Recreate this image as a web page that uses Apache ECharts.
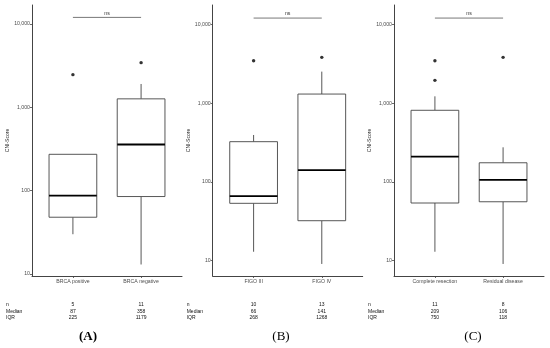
<!DOCTYPE html>
<html><head><meta charset="utf-8">
<script src="https://cdn.jsdelivr.net/npm/echarts@6/dist/echarts.min.js"></script>
<style>html,body{margin:0;padding:0;background:#fff}#c{width:550px;height:348px}</style>
</head><body><div id="c"></div><script>
// ---------- data ----------
const panelLabels = ['(A)', '(B)', '(C)'];
const categoriesA = ['BRCA positive', 'BRCA negative'];
const categoriesB = ['FIGO III', 'FIGO IV'];
const categoriesC = ['Complete resection', 'Residual disease'];
// [lower whisker, Q1, median, Q3, upper whisker]
const boxA = [[30, 48, 87, 273, 273], [13, 85, 358, 1264, 1905]];
const boxB = [[13, 53.5, 66, 324, 394], [9.1, 32.2, 141, 1303, 2510]];
const boxC = [[13, 54, 209, 811, 1219], [9.1, 56, 106, 175, 275]];
const outliersA = [[1, 2465], [2, 3435]];
const outliersB = [[1, 3451], [2, 3810]];
const outliersC = [[1, 3451], [1, 1946], [2, 3810]];
const nA = [5, 11], medianA = [87, 358], iqrA = [225, 1179];
const nB = [10, 13], medianB = [66, 141], iqrB = [268, 1268];
const nC = [11, 8], medianC = [209, 106], iqrC = [750, 118];
const rowLabels = ['n', 'Median', 'IQR'];
const yTickValues = [10, 100, 1000, 10000];
const sigLabel = 'ns';
const sigLevel = 12000;
const yAxisTitle = 'CNI-Score';

// ---------- layout ----------
const FONT = '"Liberation Sans", Arial, sans-serif';
const panels = [
  {cats: categoriesA, box: boxA, out: outliersA, n: nA, med: medianA, iqr: iqrA, left: 32, ymin: 9.46, ymax: 16900, labelX: 88, bold: true},
  {cats: categoriesB, box: boxB, out: outliersB, n: nB, med: medianB, iqr: iqrB, left: 212.7, ymin: 6.4, ymax: 17580, labelX: 281, bold: false},
  {cats: categoriesC, box: boxC, out: outliersC, n: nC, med: medianC, iqr: iqrC, left: 394, ymin: 6.4, ymax: 17580, labelX: 473, bold: false}
];
const GW = 150, GTOP = 5, GBOT = 276;

const grids = [], xAxes = [], yAxes = [], series = [], graphics = [];
const axisLine = {show: true, lineStyle: {color: '#444', width: 1}};
const axisTextColor = '#4d4d4d';

function boxRender(params, api) {
  const x = api.value(0);
  const lw = api.value(1), q1 = api.value(2), med = api.value(3), q3 = api.value(4), uw = api.value(5);
  const hw = 0.35;
  const pTL = api.coord([x - hw, q3]);
  const pBR = api.coord([x + hw, q1]);
  const pML = api.coord([x - hw, med]), pMR = api.coord([x + hw, med]);
  const pUW = api.coord([x, uw]), pLW = api.coord([x, lw]);
  const st = {stroke: '#444', lineWidth: 0.9, fill: null};
  const ch = [];
  if (pUW[1] < pTL[1] - 0.5) ch.push({type: 'line', shape: {x1: pUW[0], y1: pUW[1], x2: pUW[0], y2: pTL[1]}, style: st});
  if (pLW[1] > pBR[1] + 0.5) ch.push({type: 'line', shape: {x1: pLW[0], y1: pBR[1], x2: pLW[0], y2: pLW[1]}, style: st});
  ch.push({type: 'rect', shape: {x: pTL[0], y: pTL[1], width: pBR[0] - pTL[0], height: pBR[1] - pTL[1]}, style: {stroke: '#444', lineWidth: 0.9, fill: '#fff'}});
  ch.push({type: 'line', shape: {x1: pML[0], y1: pML[1], x2: pMR[0], y2: pMR[1]}, style: {stroke: '#000', lineWidth: 1.8}});
  return {type: 'group', children: ch};
}

function sigRender(params, api) {
  const p1 = api.coord([api.value(0), api.value(2)]);
  const p2 = api.coord([api.value(1), api.value(2)]);
  return {type: 'group', children: [
    {type: 'line', shape: {x1: p1[0], y1: p1[1], x2: p2[0], y2: p2[1]}, style: {stroke: '#555', lineWidth: 0.8}},
    {type: 'text', x: (p1[0] + p2[0]) / 2, y: p1[1] - 4, style: {text: sigLabel, fontSize: 5.2, fontFamily: FONT, fill: '#333', align: 'center', verticalAlign: 'middle'}}
  ]};
}

function tableRender(params, api) {
  const x = api.value(0);
  const cs = params.coordSys;
  const bottom = cs.y + cs.height;
  const px = api.coord([x, 100])[0];
  const offs = [29, 35.3, 41.5];
  const vals = [api.value(1), api.value(2), api.value(3)];
  const ch = vals.map((v, i) => ({type: 'text', x: px, y: bottom + offs[i],
    style: {text: String(v), fontSize: 5, fontFamily: FONT, fill: '#111', align: 'center', verticalAlign: 'middle'}}));
  if (params.dataIndex === 0) {
    rowLabels.forEach((t, i) => ch.push({type: 'text', x: cs.x - 26, y: bottom + offs[i],
      style: {text: t, fontSize: 5, fontFamily: FONT, fill: '#111', align: 'left', verticalAlign: 'middle'}}));
  }
  return {type: 'group', children: ch};
}

panels.forEach((p, i) => {
  grids.push({left: p.left, top: GTOP, width: GW, height: GBOT - GTOP});
  xAxes.push({
    type: 'value', gridIndex: i, min: 0.4, max: 2.6,
    axisLine: axisLine, splitLine: {show: false},
    axisTick: {show: true, length: 2, customValues: [1, 2], lineStyle: {color: '#444', width: 0.8}},
    axisLabel: {customValues: [1, 2], margin: 3, fontSize: 5.2, fontFamily: FONT, color: axisTextColor,
      formatter: v => p.cats[Math.round(v) - 1] || ''}
  });
  yAxes.push({
    type: 'log', logBase: 10, gridIndex: i, min: p.ymin, max: p.ymax,
    axisLine: axisLine, splitLine: {show: false},
    name: yAxisTitle, nameLocation: 'middle', nameGap: 21, nameRotate: 90,
    nameTextStyle: {fontSize: 5, fontFamily: FONT, color: '#222'},
    axisTick: {show: true, length: 2, customValues: yTickValues, lineStyle: {color: '#444', width: 0.8}},
    axisLabel: {customValues: yTickValues, margin: 2, fontSize: 5.2, fontFamily: FONT, color: axisTextColor,
      formatter: v => Number(v).toLocaleString('en-US')}
  });
  series.push({
    type: 'custom', xAxisIndex: i, yAxisIndex: i, renderItem: boxRender,
    data: p.box.map((b, k) => [k + 1].concat(b)), silent: true, animation: false
  });
  series.push({
    type: 'scatter', xAxisIndex: i, yAxisIndex: i, data: p.out,
    symbolSize: 3.4, itemStyle: {color: '#000'}, silent: true, animation: false
  });
  series.push({
    type: 'custom', xAxisIndex: i, yAxisIndex: i, renderItem: sigRender,
    data: [[1, 2, sigLevel]], silent: true, animation: false
  });
  series.push({
    type: 'custom', xAxisIndex: i, yAxisIndex: i, renderItem: tableRender, clip: false,
    data: p.n.map((v, k) => [k + 1, v, p.med[k], p.iqr[k]]), silent: true, animation: false
  });
  graphics.push({type: 'text', x: p.labelX, y: 337,
    style: {text: panelLabels[i], font: (p.bold ? 'bold ' : '') + '13px "Liberation Serif", "Times New Roman", serif',
      fill: '#000', align: 'center', verticalAlign: 'middle'}});
});

const chart = echarts.init(document.getElementById('c'), null, {renderer: 'canvas'});
chart.setOption({
  backgroundColor: '#fff', animation: false,
  grid: grids, xAxis: xAxes, yAxis: yAxes, series: series, graphic: graphics
});
</script></body></html>
